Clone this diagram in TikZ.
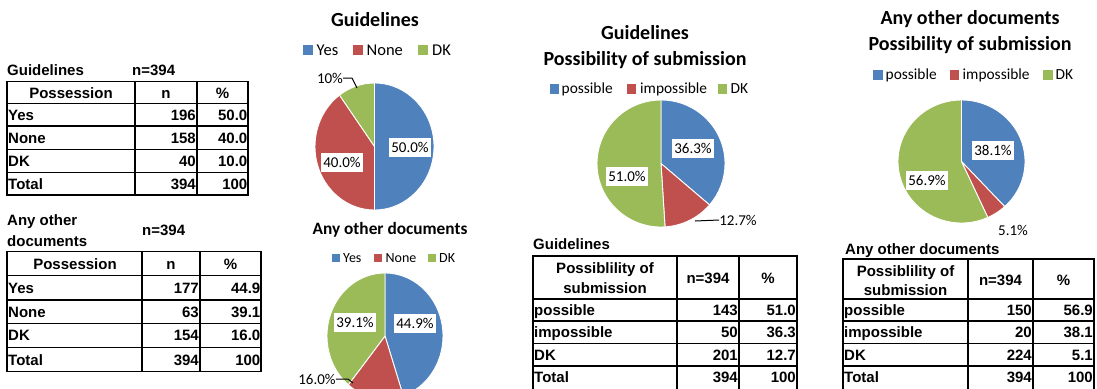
\documentclass[tikz,border=0pt]{standalone}
\usepackage{fontspec}
\newfontfamily\tabfont{Liberation Sans}
\newfontfamily\chfont{Carlito}
\definecolor{pblue}{HTML}{4F81BD}
\definecolor{pred}{HTML}{C0504D}
\definecolor{pgreen}{HTML}{9BBB59}
\newcommand\mypslice[6]{\filldraw[fill=#6, draw=white, line width=0.9bp, line join=round] (#1) -- ++(#4:#2 and #3) arc[start angle=#4, end angle=#5, x radius=#2, y radius=#3] -- cycle;}
\tikzset{
  tline/.style={draw=black, line width=1.4bp},
  tb/.style={font={\tabfont\bfseries\fontsize{15bp}{18bp}\selectfont}, inner sep=0pt},
  tbl/.style={tb, anchor=base west},
  tbr/.style={tb, anchor=base east},
  tbc/.style={tb, anchor=base},
  ctitle/.style={font={\chfont\bfseries\fontsize{20bp}{24bp}\selectfont}, inner sep=0pt, align=center},
  legbox/.style={fill=#1, inner sep=0pt, minimum size=9.5bp},
  legtext/.style={font={\chfont\fontsize{15.4bp}{18bp}\selectfont}, inner sep=0pt, anchor=west},
  datalbl/.style={fill=white, font={\chfont\fontsize{15bp}{18bp}\selectfont}, inner xsep=2.5bp, inner ysep=0pt, minimum height=19bp},
  outlbl/.style={font={\chfont\fontsize{15bp}{18bp}\selectfont}, inner sep=0pt},
  leader/.style={draw=black, line width=1bp}
}
\begin{document}
\begin{tikzpicture}[x=1bp,y=1bp]
\useasboundingbox (0,0) rectangle (1097,388);
\clip (0,0) rectangle (1097,388);
\fill[white] (0,0) rectangle (1097,388);

% ---------------- Left table 1 ----------------
\node[tbl] (g1t) at (7,312.6) {Guidelines};
\node[tbl] (g1n) at (132,312.6) {n=394};
\draw[tline] (7,306.3) rectangle (248,193);
\foreach \yy in {284.7,262,238.7,215.3} \draw[tline] (7,\yy) -- (248,\yy);
\draw[tline] (135,306.3) -- (135,193);
\draw[tline] (197,306.3) -- (197,193);
\node[tbc] (g1h1) at (71,289.1) {Possession};
\node[tbc] (g1h2) at (166,289.1) {n};
\node[tbc] (g1h3) at (222.5,289.1) {\%};
\node[tbl] (g1a1) at (8,267.9) {Yes};
\node[tbr] (g1a2) at (196,267.9) {196};
\node[tbr] (g1a3) at (247.5,267.9) {50.0};
\node[tbl] (g1b1) at (8,244.9) {None};
\node[tbr] (g1b2) at (196,244.9) {158};
\node[tbr] (g1b3) at (247.5,244.9) {40.0};
\node[tbl] (g1c1) at (8,221.6) {DK};
\node[tbr] (g1c2) at (196,221.6) {40};
\node[tbr] (g1c3) at (247.5,221.6) {10.0};
\node[tbl] (g1d1) at (8,198.6) {Total};
\node[tbr] (g1d2) at (196,198.6) {394};
\node[tbr] (g1d3) at (247.5,198.6) {100};

% ---------------- Left table 2 ----------------
\node[tbl] (o1t) at (7,162.6) {Any other};
\node[tbl] (o1u) at (7,141.6) {documents};
\node[tbl] (o1n) at (142,152.6) {n=394};
\draw[tline] (7,136.3) rectangle (261,16.3);
\foreach \yy in {112.3,88,64.7,40.3} \draw[tline] (7,\yy) -- (261,\yy);
\draw[tline] (142,136.3) -- (142,16.3);
\draw[tline] (200,136.3) -- (200,16.3);
\node[tbc] (o1h1) at (75,118.9) {Possession};
\node[tbc] (o1h2) at (171,118.9) {n};
\node[tbc] (o1h3) at (230.5,118.9) {\%};
\node[tbl] (o1a1) at (8,94.75) {Yes};
\node[tbr] (o1a2) at (199,94.75) {177};
\node[tbr] (o1a3) at (260.5,94.75) {44.9};
\node[tbl] (o1b1) at (8,70.95) {None};
\node[tbr] (o1b2) at (199,70.95) {63};
\node[tbr] (o1b3) at (260.5,70.95) {39.1};
\node[tbl] (o1c1) at (8,47.1) {DK};
\node[tbr] (o1c2) at (199,47.1) {154};
\node[tbr] (o1c3) at (260.5,47.1) {16.0};
\node[tbl] (o1d1) at (8,22.9) {Total};
\node[tbr] (o1d2) at (199,22.9) {394};
\node[tbr] (o1d3) at (260.5,22.9) {100};

% ---------------- Right table 1 ----------------
\node[tbl] (g2t) at (533,138.6) {Guidelines};
\draw[tline] (533,-3) -- (533,132) -- (797,132) -- (797,-3);
\foreach \yy in {89,67,44.5,22} \draw[tline] (533,\yy) -- (797,\yy);
\draw[tline] (677,132) -- (677,-3);
\draw[tline] (739,132) -- (739,-3);
\node[tbc] (g2h1) at (605,114.6) {Possiblility of};
\node[tbc] (g2h1b) at (605,94.6) {submission};
\node[tbc] (g2h2) at (708,104.6) {n=394};
\node[tbc] (g2h3) at (768,104.6) {\%};
\node[tbl] (g2a1) at (534,72.6) {possible};
\node[tbr] (g2a2) at (738,72.6) {143};
\node[tbr] (g2a3) at (796,72.6) {51.0};
\node[tbl] (g2b1) at (534,50.1) {impossible};
\node[tbr] (g2b2) at (738,50.1) {50};
\node[tbr] (g2b3) at (796,50.1) {36.3};
\node[tbl] (g2c1) at (534,27.6) {DK};
\node[tbr] (g2c2) at (738,27.6) {201};
\node[tbr] (g2c3) at (796,27.6) {12.7};
\node[tbl] (g2d1) at (534,5.6) {Total};
\node[tbr] (g2d2) at (738,5.6) {394};
\node[tbr] (g2d3) at (796,5.6) {100};

% ---------------- Right table 2 ----------------
\node[tbl] (o2t) at (845,133.6) {Any other documents};
\draw[tline] (843,-3) -- (843,129) -- (1094,129) -- (1094,-3);
\foreach \yy in {89,67,44.5,22} \draw[tline] (843,\yy) -- (1094,\yy);
\draw[tline] (968,129) -- (968,-3);
\draw[tline] (1033,129) -- (1033,-3);
\node[tbc] (o2h1) at (905.5,111.6) {Possiblility of};
\node[tbc] (o2h1b) at (905.5,92.6) {submission};
\node[tbc] (o2h2) at (1000.5,102.6) {n=394};
\node[tbc] (o2h3) at (1063.5,102.6) {\%};
\node[tbl] (o2a1) at (844,72.6) {possible};
\node[tbr] (o2a2) at (1032,72.6) {150};
\node[tbr] (o2a3) at (1093,72.6) {56.9};
\node[tbl] (o2b1) at (844,50.1) {impossible};
\node[tbr] (o2b2) at (1032,50.1) {20};
\node[tbr] (o2b3) at (1093,50.1) {38.1};
\node[tbl] (o2c1) at (844,27.6) {DK};
\node[tbr] (o2c2) at (1032,27.6) {224};
\node[tbr] (o2c3) at (1093,27.6) {5.1};
\node[tbl] (o2d1) at (844,5.6) {Total};
\node[tbr] (o2d2) at (1032,5.6) {394};
\node[tbr] (o2d3) at (1093,5.6) {100};

% ---------------- Pie 1: Guidelines ----------------
\node[ctitle] (p1t) at (375,368) {Guidelines};
\node[legbox=pblue] (p1k1) at (308,338) {};
\node[legtext, font={\chfont\fontsize{16.5bp}{18bp}\selectfont}] (p1l1) at (316.5,338) {Yes};
\node[legbox=pred] (p1k2) at (358,338) {};
\node[legtext, font={\chfont\fontsize{16.5bp}{18bp}\selectfont}] (p1l2) at (366.5,338) {None};
\node[legbox=pgreen] (p1k3) at (423,338) {};
\node[legtext, font={\chfont\fontsize{16.5bp}{18bp}\selectfont}] (p1l3) at (432,338) {DK};
\coordinate (p1) at (374.5,241.5);
\mypslice{p1}{59.5}{63.5}{90}{-90}{pblue}
\mypslice{p1}{59.5}{63.5}{-90}{-234}{pred}
\mypslice{p1}{59.5}{63.5}{-234}{-270}{pgreen}
\node[datalbl] (p1d1) at (410,241) {50.0\%};
\node[datalbl] (p1d2) at (342,226) {40.0\%};
\node[outlbl] (p1d3) at (330,310) {10\%};
\coordinate (p1e) at (357,300);
\draw[leader] (p1d3.east) -- (352,310) -- (p1e);

% ---------------- Pie 2: Any other documents ----------------
\node[ctitle, font={\chfont\bfseries\fontsize{17.3bp}{20bp}\selectfont}] (p2t) at (390,158) {Any other documents};
\node[legbox=pblue, minimum size=8bp] (p2k1) at (336,130) {};
\node[legtext, font={\chfont\fontsize{14bp}{16bp}\selectfont}] (p2l1) at (343,130) {Yes};
\node[legbox=pred, minimum size=8bp] (p2k2) at (377.5,130) {};
\node[legtext, font={\chfont\fontsize{14bp}{16bp}\selectfont}] (p2l2) at (385.5,130) {None};
\node[legbox=pgreen, minimum size=8bp] (p2k3) at (432,130) {};
\node[legtext, font={\chfont\fontsize{14bp}{16bp}\selectfont}] (p2l3) at (439,130) {DK};
\coordinate (p2) at (385,52);
\mypslice{p2}{58}{63}{90}{-71.64}{pblue}
\mypslice{p2}{58}{63}{-71.64}{-129.24}{pred}
\mypslice{p2}{58}{63}{-129.24}{-270}{pgreen}
\node[datalbl] (p2d1) at (415,65) {44.9\%};
\node[datalbl] (p2d3) at (355,66) {39.1\%};
\node[outlbl] (p2d2) at (317,9) {16.0\%};
\coordinate (p2e) at (353,5);
\draw[leader] (p2d2.east) -- (348,9) -- (p2e);

% ---------------- Pie 3: Guidelines / Possibility ----------------
\node[ctitle] (p3t) at (645,341) {Guidelines\\[2bp]Possibility of submission};
\node[legbox=pblue] (p3k1) at (554.5,299) {};
\node[legtext] (p3l1) at (561.5,299) {possible};
\node[legbox=pred] (p3k2) at (631.5,299) {};
\node[legtext] (p3l2) at (640,299) {impossible};
\node[legbox=pgreen] (p3k3) at (722.5,299) {};
\node[legtext] (p3l3) at (730.5,299) {DK};
\coordinate (p3) at (661,224.5);
\mypslice{p3}{64}{63.5}{90}{-40.68}{pblue}
\mypslice{p3}{64}{63.5}{-40.68}{-86.4}{pred}
\mypslice{p3}{64}{63.5}{-86.4}{-270}{pgreen}
\node[datalbl] (p3d1) at (693,240) {36.3\%};
\node[datalbl] (p3d3) at (627,212) {51.0\%};
\node[outlbl] (p3d2) at (738,168) {12.7\%};
\coordinate (p3e) at (695,167);
\draw[leader] (p3d2.west) -- (p3e);

% ---------------- Pie 4: Any other documents / Possibility ----------------
\node[ctitle] (p4t) at (970,356) {Any other documents\\[2bp]Possibility of submission};
\node[legbox=pblue] (p4k1) at (878,313) {};
\node[legtext] (p4l1) at (885.5,313) {possible};
\node[legbox=pred] (p4k2) at (954.5,313) {};
\node[legtext] (p4l2) at (962.5,313) {impossible};
\node[legbox=pgreen] (p4k3) at (1048,313) {};
\node[legtext] (p4l3) at (1055.5,313) {DK};
\coordinate (p4) at (961.5,226.5);
\mypslice{p4}{63.5}{61.5}{90}{-47.16}{pblue}
\mypslice{p4}{63.5}{61.5}{-47.16}{-65.52}{pred}
\mypslice{p4}{63.5}{61.5}{-65.52}{-270}{pgreen}
\node[datalbl] (p4d1) at (993,238) {38.1\%};
\node[datalbl] (p4d3) at (927,208) {56.9\%};
\node[outlbl] (p4d2) at (1013,158) {5.1\%};
\end{tikzpicture}
\end{document}
